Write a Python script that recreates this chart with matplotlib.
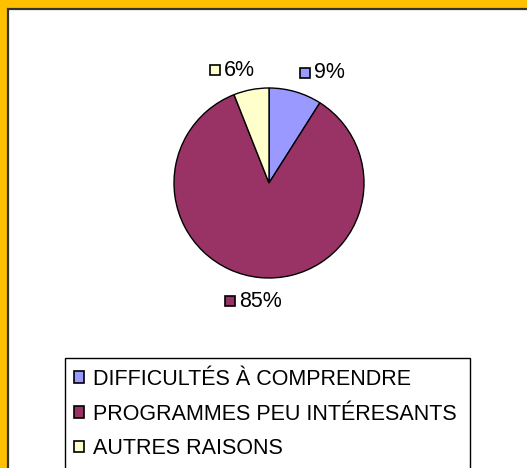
import numpy as np
import matplotlib.pyplot as plt
from matplotlib.patches import Rectangle, Patch

plt.rcParams['font.family'] = ['Liberation Sans', 'DejaVu Sans']

# Data
categories = ['DIFFICULTÉS À COMPRENDRE', 'PROGRAMMES PEU INTÉRESANTS', 'AUTRES RAISONS']
shares = [9, 85, 6]
colors = ['#9999FF', '#993366', '#FFFFCC']

W, H = 527, 468
FS = 15.5
EM = FS * 100 / 72  # font size in pixels
fig = plt.figure(figsize=(W / 100, H / 100), dpi=100, facecolor='#FFC000')

# white chart area with dark outline (cropped at right/bottom)
fig.add_artist(Rectangle((7.5 / W, -0.05), 1.1, (H - 8.5) / H + 0.05,
                         transform=fig.transFigure, facecolor='white',
                         edgecolor='#333333', linewidth=1.6, zorder=-3))

# pie
cx, cy, r = 269, H - 183, 95
ax = fig.add_axes([(cx - r) / W, (cy - r) / H, 2 * r / W, 2 * r / H])
wedges, _ = ax.pie(shares, colors=colors, startangle=90, counterclock=False,
                   radius=1, wedgeprops=dict(edgecolor='black', linewidth=1))
ax.set_xlim(-1, 1)
ax.set_ylim(-1, 1)
ax.set_aspect('equal')
ax.axis('off')

# percentage labels with colour keys, nudged sideways
nudge_px = [21, -4, -14]
for w, val, col, dx in zip(wedges, shares, colors, nudge_px):
    ang = np.deg2rad((w.theta1 + w.theta2) / 2)
    x = 1.23 * np.cos(ang) + dx / r
    y = 1.23 * np.sin(ang) - 2 / r
    txt = f'{val}%'
    tw = EM * (0.556 * (len(txt) - 1) + 0.889)
    gx = x - (10 + 5 + tw) / 2 / r
    ax.plot([gx + 5 / r], [y], marker='s', markersize=7, markerfacecolor=col,
            markeredgecolor='black', markeredgewidth=1.2, clip_on=False)
    ax.text(gx + 14 / r, y, txt, fontsize=FS, ha='left', va='center',
            clip_on=False)

# legend box
fig.add_artist(Rectangle((65 / W, -0.05), 405 / W, (H - 358) / H + 0.05,
                         transform=fig.transFigure, facecolor='white',
                         edgecolor='black', linewidth=1, zorder=-2))
handles = [Patch(facecolor=c, edgecolor='black', linewidth=1.2) for c in colors]
fig.legend(handles, categories, loc='upper left',
           bbox_to_anchor=(74 / W, (H - 369) / H), frameon=False,
           fontsize=FS, handlelength=0.47, handleheight=0.47,
           handletextpad=0.4, labelspacing=0.63, borderpad=0, borderaxespad=0)

fig.savefig('out.png', dpi=100, facecolor=fig.get_facecolor())
